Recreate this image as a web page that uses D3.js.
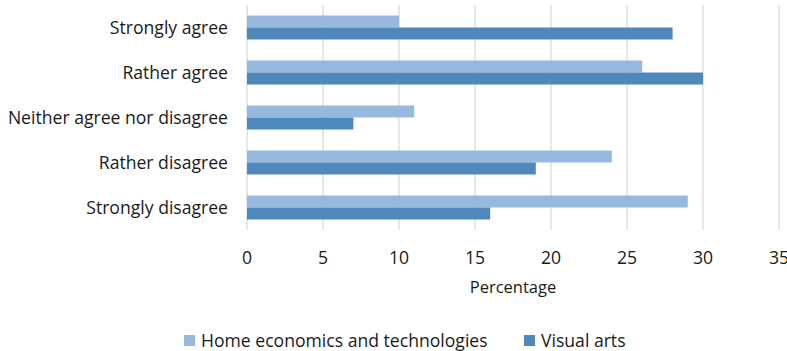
<!DOCTYPE html>
<html>
<head>
<meta charset="utf-8">
<script src="https://cdn.jsdelivr.net/npm/d3@7"></script>
<style>
  html, body { margin: 0; padding: 0; background: #fff; }
  svg { display: block; font-family: "Open Sans", "Liberation Sans", sans-serif; }
</style>
</head>
<body>
<svg id="chart" width="787" height="351"></svg>
<script>
// Survey answers, top to bottom
const categories = ["Strongly agree", "Rather agree", "Neither agree nor disagree", "Rather disagree", "Strongly disagree"];
const seriesNames = ["Home economics and technologies", "Visual arts"];
const homeEconomics = [10, 26, 11, 24, 29];
const visualArts = [28, 30, 7, 19, 16];
const xTicks = [0, 5, 10, 15, 20, 25, 30, 35];
const colors = ["#98b9df", "#4f89bc"];

const svg = d3.select("#chart");
const plot = { left: 247, right: 779, top: 5, bottom: 230 };

const x = d3.scaleLinear().domain([0, 35]).range([plot.left, plot.right]);
const y = d3.scaleBand().domain(categories).range([plot.top, plot.bottom]).paddingInner(0.4667).paddingOuter(0.2333);
const ySub = d3.scaleBand().domain(seriesNames).range([0, y.bandwidth()]);

// vertical gridlines
svg.append("g")
  .selectAll("line")
  .data(xTicks)
  .join("line")
  .attr("x1", d => x(d)).attr("x2", d => x(d))
  .attr("y1", plot.top).attr("y2", plot.bottom)
  .attr("stroke", "#d9d9d9").attr("stroke-width", 1.3);

// bars
const rows = categories.map((c, i) => ({ c, vals: [homeEconomics[i], visualArts[i]] }));
const groups = svg.append("g").selectAll("g")
  .data(rows)
  .join("g")
  .attr("transform", d => `translate(0,${y(d.c)})`);

groups.selectAll("rect")
  .data(d => d.vals.map((v, k) => ({ v, k })))
  .join("rect")
  .attr("x", x(0))
  .attr("y", d => ySub(seriesNames[d.k]))
  .attr("width", d => x(d.v) - x(0))
  .attr("height", ySub.bandwidth())
  .attr("fill", d => colors[d.k]);

// category labels
svg.append("g")
  .selectAll("text")
  .data(categories)
  .join("text")
  .attr("x", 228)
  .attr("y", d => y(d) + y.bandwidth() / 2 + 6.3)
  .attr("text-anchor", "end")
  .attr("font-size", 17.6)
  .attr("fill", "#1a1a1a")
  .text(d => d);

// x tick labels
svg.append("g")
  .selectAll("text")
  .data(xTicks)
  .join("text")
  .attr("x", d => x(d))
  .attr("y", 263.5)
  .attr("text-anchor", "middle")
  .attr("font-size", 17.6)
  .attr("fill", "#1a1a1a")
  .text(d => d);

// axis title
svg.append("text")
  .attr("x", x(17.5))
  .attr("y", 293)
  .attr("text-anchor", "middle")
  .attr("font-size", 16.5)
  .attr("fill", "#1a1a1a")
  .text("Percentage");

// legend
const legendX = [184, 524];
const legend = svg.append("g").selectAll("g")
  .data(seriesNames)
  .join("g")
  .attr("transform", (d, i) => `translate(${legendX[i]},335)`);
legend.append("rect")
  .attr("width", 11).attr("height", 11)
  .attr("fill", (d, i) => colors[i]);
legend.append("text")
  .attr("x", 17).attr("y", 11.5)
  .attr("font-size", 17.6)
  .attr("fill", "#1a1a1a")
  .text(d => d);
</script>
</body>
</html>
